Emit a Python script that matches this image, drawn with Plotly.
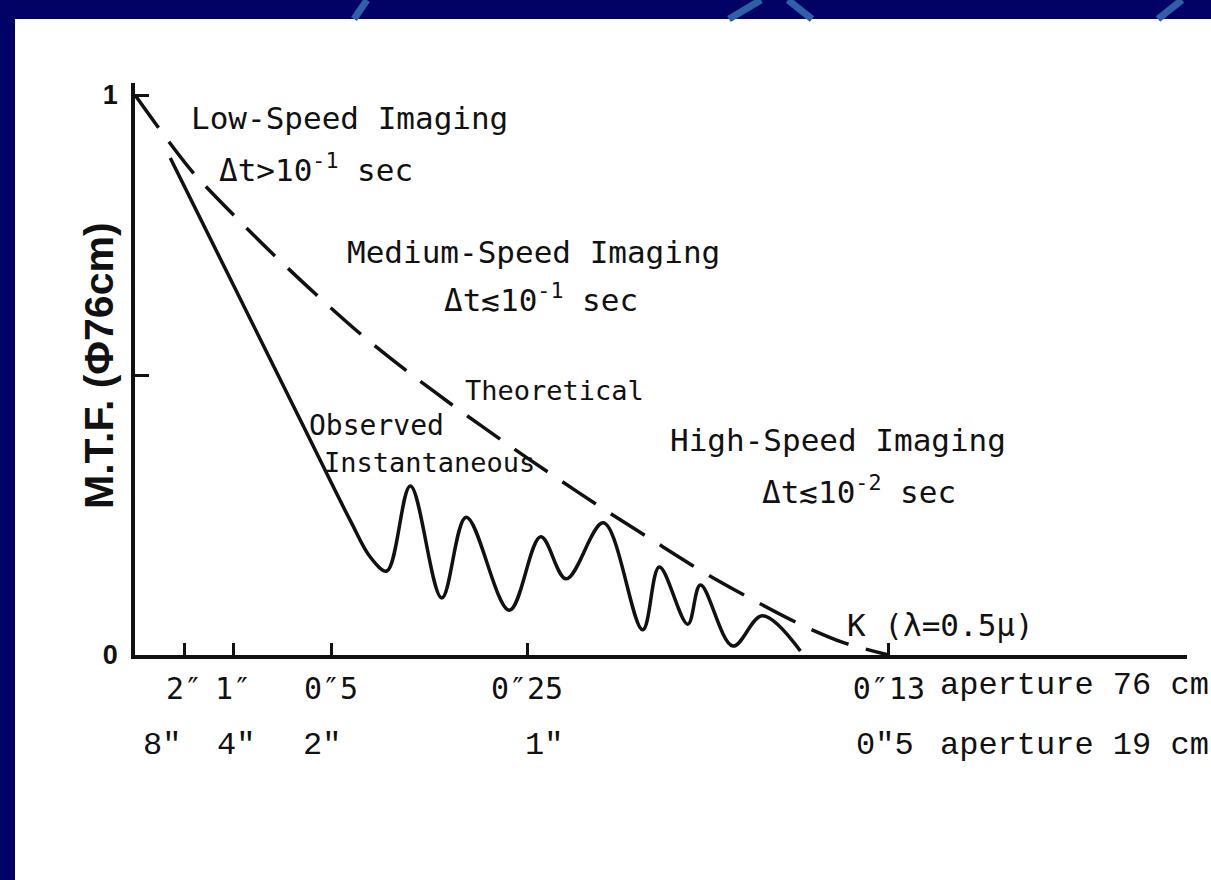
import plotly.graph_objects as go

# Spatial frequency in cycles per arcsec (x) and modulation transfer (y)
theo_freq = [0.0, 0.31, 0.59, 1.01, 1.42, 1.84, 2.31, 2.79, 3.28, 3.77,
             4.27, 4.77, 5.28, 5.79, 6.31, 6.82, 7.23, 7.69]
theo_mtf = [1.0, 0.925, 0.862, 0.785, 0.714, 0.645, 0.572, 0.505, 0.441, 0.380,
            0.320, 0.262, 0.205, 0.149, 0.098, 0.052, 0.022, 0.0]

obs_freq = [0.36, 1.0, 1.72, 2.2, 2.4, 2.57, 2.81, 3.13, 3.38, 3.82,
            4.14, 4.40, 4.78, 5.18, 5.35, 5.64, 5.77, 6.10, 6.40, 6.79]
obs_mtf = [0.8875, 0.662, 0.408, 0.239, 0.175, 0.150, 0.302, 0.102, 0.246, 0.080,
           0.211, 0.136, 0.236, 0.045, 0.157, 0.055, 0.125, 0.016, 0.070, 0.007]

# Angular scale marks: 76 cm aperture and 19 cm aperture equivalents
tick_freq = [0.5, 1.0, 2.0, 4.0, 1 / 0.13]
tick_76 = ["2″", "1″", "0″5", "0″25", "0″13"]
tick_19 = ["8″", "4″", "2″", "1″", "0″5"]

y_ticks = [0.0, 0.5, 1.0]
y_tick_text = ["0", " ", "1"]

W, H = 1211, 880
X0, X1, YB, YT = 135, 1187, 655, 83      # plot-area edges in px
PX_PER_FREQ, PX_PER_MTF = 98.0, 560.0
INK = "#111111"
NAVY = "#020266"
LEROY = "DejaVu Sans Mono"
MONO = "Liberation Mono"


def px(x, y):
    """Figure pixel -> paper fraction (margins are zero)."""
    return x / W, 1 - y / H


fig = go.Figure()

fig.add_trace(go.Scatter(
    x=theo_freq, y=theo_mtf, mode="lines", cliponaxis=False, hoverinfo="skip",
    line=dict(color=INK, width=3.5, dash="40px,18px", shape="spline", smoothing=0.8),
))
fig.add_trace(go.Scatter(
    x=obs_freq, y=obs_mtf, mode="lines", cliponaxis=False, hoverinfo="skip",
    line=dict(color=INK, width=3.5, shape="spline", smoothing=1.0),
))

axis_common = dict(
    showline=True, linecolor=INK, linewidth=3.5, ticks="inside", tickcolor=INK,
    tickwidth=2.5, showgrid=False, zeroline=False, automargin=False, fixedrange=True,
)
fig.update_layout(
    width=W, height=H, template="none", showlegend=False,
    margin=dict(l=0, r=0, t=0, b=0),
    paper_bgcolor="white", plot_bgcolor="rgba(0,0,0,0)",
    xaxis=dict(
        domain=[X0 / W, X1 / W], range=[0, (X1 - X0) / PX_PER_FREQ],
        tickmode="array", tickvals=tick_freq, ticktext=tick_76, ticklen=12,
        tickfont=dict(family=LEROY, size=30, color=INK), ticklabelstandoff=4,
        **axis_common,
    ),
    yaxis=dict(
        domain=[1 - YB / H, 1 - YT / H], range=[0, (YB - YT) / PX_PER_MTF],
        tickmode="array", tickvals=y_ticks, ticktext=y_tick_text, ticklen=14,
        tickfont=dict(family="Liberation Sans", size=27, color=INK, weight="bold"),
        ticklabelstandoff=8,
        **axis_common,
    ),
)

# Slide frame: navy strips along the top and left edges, with template arcs
shapes = [
    dict(type="rect", xref="paper", yref="paper", x0=0, x1=1, y0=px(0, 19)[1], y1=1,
         fillcolor=NAVY, line=dict(width=0)),
    dict(type="rect", xref="paper", yref="paper", x0=0, x1=px(15, 0)[0], y0=0, y1=1,
         fillcolor=NAVY, line=dict(width=0)),
]
for (ax0, ay0, ax1, ay1) in [(354, 19, 367, 0), (729, 19, 761, 0),
                             (788, 0, 812, 19), (1158, 19, 1182, 0)]:
    p0, p1 = px(ax0, ay0), px(ax1, ay1)
    shapes.append(dict(type="line", xref="paper", yref="paper",
                       x0=p0[0], y0=p0[1], x1=p1[0], y1=p1[1],
                       line=dict(color="#2f5fa6", width=7)))
fig.update_layout(shapes=shapes)

ann = []


def data_xy(x_px, y_px):
    return (x_px - X0) / PX_PER_FREQ, (YB - y_px) / PX_PER_MTF


# Regime labels and curve labels
labels = [
    ("Low-Speed Imaging", 189, 118, 31),
    ("Δt>10<sup>-1</sup> sec", 217, 168, 31),
    ("Medium-Speed Imaging", 345, 252, 31),
    ("Δt≲10<sup>-1</sup> sec", 442, 298, 31),
    ("High-Speed Imaging", 668, 440, 31),
    ("Δt≲10<sup>-2</sup> sec", 760, 490, 31),
    ("K (λ=0.5μ)", 845, 625, 31),
    ("Theoretical", 463, 390, 27),
    ("Observed", 307, 425, 28),
    ("Instantaneous", 322, 462, 27),
]
for text, lx, ly, size in labels:
    dx, dy = data_xy(lx, ly)
    ann.append(dict(text=text, x=dx, y=dy, xref="x", yref="y", xanchor="left",
                    yanchor="middle", showarrow=False,
                    font=dict(family=LEROY, size=size, color=INK)))

# Second row of angular marks for the 19 cm aperture
row19_shift = [-22, 3, -9, 17, -4]
for f, t, s in zip(tick_freq, tick_19, row19_shift):
    ann.append(dict(text=t, x=f, y=px(0, 745)[1], xref="x", yref="paper",
                    xanchor="center", yanchor="middle", xshift=s, showarrow=False,
                    font=dict(family=MONO, size=32, color=INK)))

for text, ly in [("aperture 76 cm", 685), ("aperture 19 cm", 745)]:
    ann.append(dict(text=text, x=px(938, 0)[0], y=px(0, ly)[1], xref="paper",
                    yref="paper", xanchor="left", yanchor="middle", showarrow=False,
                    font=dict(family=MONO, size=32, color=INK)))

# Vertical axis title
tx, ty = px(99, 366)
ann.append(dict(text="M.T.F. (Φ76cm)", x=tx, y=ty, xref="paper", yref="paper",
                textangle=-90, xanchor="center", yanchor="middle", showarrow=False,
                font=dict(family="Liberation Sans", size=41, color=INK, weight="bold")))

fig.update_layout(annotations=ann)

fig.write_html("out.html")
